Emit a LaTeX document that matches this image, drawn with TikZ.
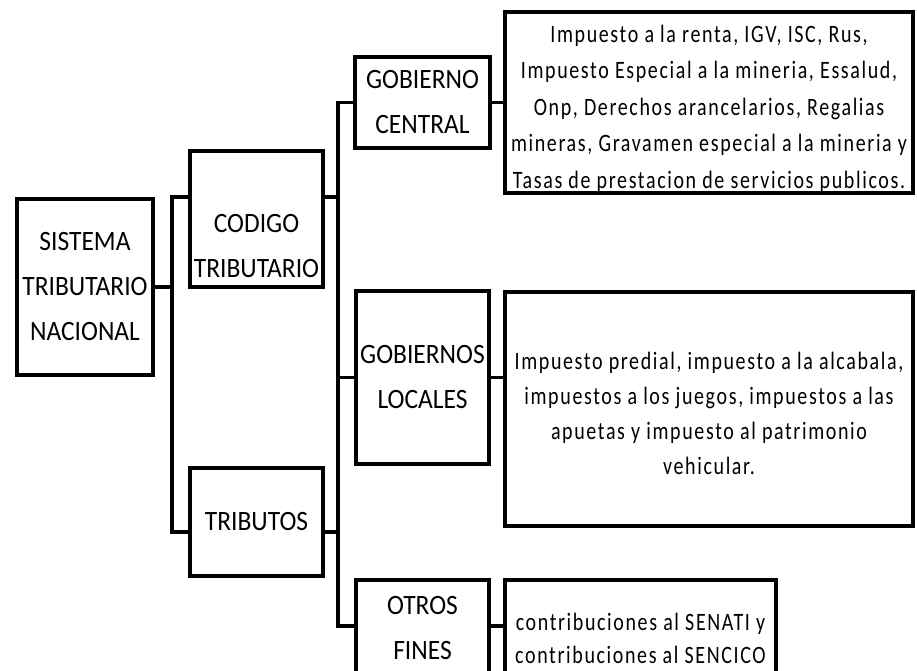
\documentclass[tikz,border=0pt]{standalone}
\usepackage{fontspec}
\setmainfont{Carlito}[FakeStretch=0.91]
\newfontfamily\detfont{Carlito}[FakeStretch=0.8,LetterSpace=6.5]
\usepackage{tikz}

\tikzset{
  box/.style={draw,line width=4pt,inner sep=0pt,align=center,
    font=\fontsize{28}{45}\selectfont},
  detbox/.style={box,font=\detfont\fontsize{25}{36.5}\selectfont},
  link/.style={line width=3.5pt}
}

\begin{document}
\begin{tikzpicture}[x=1pt,y=-1pt]
  \clip
    (0,0)
    rectangle
    (917,671);
  \node[box,minimum width=136pt,minimum height=176pt] (sistema)
    at (85,287) {SISTEMA\\TRIBUTARIO\\NACIONAL};
  \node[box,minimum width=133pt,minimum height=136pt] (codigo)
    at (256.5,219) {\rule{0pt}{72pt}CODIGO\\TRIBUTARIO};
  \node[box,minimum width=133pt,minimum height=108pt] (tributos)
    at (256.5,522) {TRIBUTOS};
  \node[box,minimum width=135pt,minimum height=91pt] (central)
    at (422.5,102.5) {GOBIERNO\\CENTRAL};
  \node[box,minimum width=133pt,minimum height=173pt] (locales)
    at (422.5,377.5) {GOBIERNOS\\LOCALES};
  \node[box,minimum width=133pt,minimum height=96pt] (otros)
    at (422.5,628) {OTROS\\FINES};
  \node[detbox,minimum width=408pt,minimum height=181pt] (detcentral)
    at (709,102.5) {\rule{0pt}{30pt}Impuesto a la renta, IGV, ISC, Rus,\\
      Impuesto Especial a la mineria, Essalud,\\
      Onp, Derechos arancelarios, Regalias\\
      mineras, Gravamen especial a la mineria y\\
      Tasas de prestacion de servicios publicos.};
  \node[detbox,minimum width=408pt,minimum height=234pt,
    font=\detfont\fontsize{25}{35}\selectfont] (detlocales)
    at (709,409) {\rule{0pt}{26pt}Impuesto predial, impuesto a la alcabala,\\
      impuestos a los juegos, impuestos a las\\
      apuetas y impuesto al patrimonio\\
      vehicular.};
  \node[detbox,minimum width=271pt,minimum height=116pt,
    font=\detfont\fontsize{25}{33}\selectfont] (detotros)
    at (640.5,638) {contribuciones al SENATI y\\contribuciones al SENCICO};
  \coordinate (ja) at (172,197);
  \coordinate (jb) at (172,532);
  \coordinate (ka) at (338,102.5);
  \coordinate (kb) at (338,626);
  \coordinate (kc) at (338,197);
  \coordinate (kd) at (338,532);
  \draw[link]
    (sistema.east)
    --
    (sistema.east -| ja);
  \draw[link]
    (codigo.west |- ja)
    -- (ja) -- (jb) --
    (tributos.west |- jb);
  \draw[link]
    (central.west)
    -- (ka) -- (kb) --
    (otros.west |- kb);
  \draw[link]
    (kc)
    --
    (codigo.east |- kc);
  \draw[link]
    (kd)
    --
    (tributos.east |- kd);
  \draw[link]
    (locales.west)
    --
    (locales.west -| ka);
  \draw[link]
    (central.east)
    --
    (detcentral.west);
  \draw[link]
    (locales.east)
    --
    (locales.east -| detlocales.west);
  \draw[link]
    (otros.east |- kb)
    --
    (detotros.west |- kb);
\end{tikzpicture}
\end{document}
